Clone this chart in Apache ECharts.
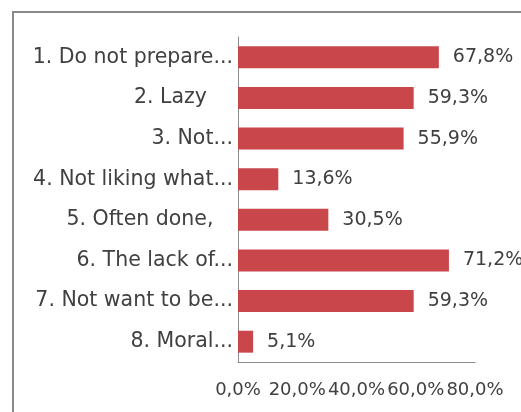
<!DOCTYPE html>
<html>
<head>
<meta charset="utf-8">
<script src="https://cdn.jsdelivr.net/npm/echarts@6/dist/echarts.min.js"></script>
<style>
html,body{margin:0;padding:0;background:#fff;}
#c{width:521px;height:412px;}
</style>
</head>
<body>
<div id="c"></div>
<script>
var categories = [
  "1. Do not prepare...",
  "2. Lazy    ",
  "3. Not...",
  "4. Not liking what...",
  "5. Often done,   ",
  "6. The lack of...",
  "7. Not want to be...",
  "8. Moral..."
];
var values = [67.8, 59.3, 55.9, 13.6, 30.5, 71.2, 59.3, 5.1];
var xTicks = [0, 20, 40, 60, 80];

function fmt(v) { return v.toFixed(1).replace('.', ',') + '%'; }

var chart = echarts.init(document.getElementById('c'), null, {renderer: 'canvas'});
chart.setOption({
  animation: false,
  backgroundColor: '#ffffff',
  textStyle: {fontFamily: 'DejaVu Sans'},
  graphic: [{
    type: 'rect',
    shape: {x: 13, y: 12, width: 530, height: 420},
    style: {fill: 'none', stroke: '#8a8a8a', lineWidth: 2},
    silent: true
  }],
  grid: {left: 238, right: 46, top: 37, bottom: 50, containLabel: false},
  xAxis: {
    type: 'value',
    min: xTicks[0],
    max: xTicks[xTicks.length - 1],
    interval: 20,
    splitLine: {show: false},
    axisLine: {show: true, lineStyle: {color: '#8c8c8c', width: 1}},
    axisTick: {show: false},
    axisLabel: {
      margin: 19,
      color: '#404040',
      fontSize: 18,
      fontFamily: 'DejaVu Sans',
      showMinLabel: true,
      showMaxLabel: true,
      hideOverlap: false,
      formatter: function (v) { return fmt(v); }
    }
  },
  yAxis: {
    type: 'category',
    data: categories,
    inverse: true,
    axisLine: {show: true, lineStyle: {color: '#8c8c8c', width: 1}},
    axisTick: {show: false},
    axisLabel: {
      margin: 5,
      color: '#404040',
      fontSize: 20.5,
      fontFamily: 'DejaVu Sans'
    }
  },
  series: [{
    type: 'bar',
    data: values,
    barCategoryGap: '46%',
    itemStyle: {color: '#C9474B'},
    label: {
      show: true,
      position: 'right',
      distance: 14,
      color: '#404040',
      fontSize: 19,
      fontFamily: 'DejaVu Sans',
      formatter: function (p) { return fmt(p.value); }
    }
  }]
});
</script>
</body>
</html>
